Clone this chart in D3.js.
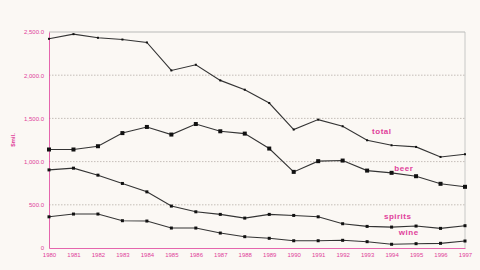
<!DOCTYPE html>
<html><head><meta charset="utf-8">
<script src="https://cdn.jsdelivr.net/npm/d3@7/dist/d3.min.js"></script>
<style>html,body{margin:0;padding:0;background:#fbf8f4;}svg{display:block;}</style>
</head><body>
<script>
const years = [1980,1981,1982,1983,1984,1985,1986,1987,1988,1989,1990,1991,1992,1993,1994,1995,1996,1997];
const total   = [2421,2475,2433,2413,2379,2055,2121,1940,1832,1678,1371,1486,1409,1247,1189,1170,1054,1085];
const beer    = [1140,1140,1178,1330,1401,1313,1435,1351,1324,1151,881,1005,1012,896,870,831,743,708];
const spirits = [904,924,843,747,650,485,419,389,346,389,377,361,281,250,242,254,227,258];
const wine    = [361,393,393,316,312,231,231,173,131,112,84,84,89,73,43,50,54,81];
const yTicks  = [0,500,1000,1500,2000,2500];
const seriesNames = ["total","beer","spirits","wine"];
const yTitle = "$mil.";

const W=480,H=270;
const m={l:49,r:15,t:32,b:22};
const pink="#e0409a";
const svg=d3.select("body").append("svg").attr("width",W).attr("height",H);
svg.append("rect").attr("width",W).attr("height",H).attr("fill","#fbf8f4");

const x=d3.scaleLinear().domain([1980,1997]).range([m.l,W-m.r]);
const y=d3.scaleLinear().domain([0,2500]).range([H-m.b,m.t]);

svg.append("g").selectAll("line").data(yTicks.filter(t=>t>0&&t<2500)).join("line")
  .attr("x1",m.l).attr("x2",W-m.r).attr("y1",d=>y(d)).attr("y2",d=>y(d))
  .attr("stroke","#b8b0aa").attr("stroke-width",0.8).attr("stroke-dasharray","1.5,1.5");
svg.append("line").attr("x1",m.l).attr("x2",W-m.r).attr("y1",y(2500)).attr("y2",y(2500)).attr("stroke","#aaa").attr("stroke-width",0.8);
svg.append("line").attr("x1",W-m.r).attr("x2",W-m.r).attr("y1",y(2500)).attr("y2",y(0)).attr("stroke","#bbb").attr("stroke-width",0.8);

const fmt=d=>d===0?"0":d3.format(",.1f")(d);
const ya=svg.append("g").attr("transform",`translate(${m.l},0)`)
  .call(d3.axisLeft(y).tickValues(yTicks).tickFormat(fmt).tickSize(0).tickPadding(5));
ya.select(".domain").attr("stroke",pink).attr("stroke-width",0.8);
ya.selectAll("text").attr("fill",pink).attr("font-family","Arial, Liberation Sans, sans-serif").attr("font-size",6);

const xa=svg.append("g").attr("transform",`translate(0,${H-m.b})`)
  .call(d3.axisBottom(x).tickValues(years).tickFormat(d3.format("d")).tickSize(0).tickPadding(5));
xa.select(".domain").attr("stroke",pink).attr("stroke-width",0.8);
xa.selectAll("text").attr("fill",pink).attr("font-family","Arial, Liberation Sans, sans-serif").attr("font-size",6);

svg.append("text").attr("transform",`translate(15,140) rotate(-90)`).attr("text-anchor","middle")
  .attr("fill",pink).attr("font-family","Arial, Liberation Sans, sans-serif").attr("font-size",6).attr("font-weight","bold").text(yTitle);

const data={total,beer,spirits,wine};
const msize={total:2,beer:4,spirits:3,wine:3};
const line=d3.line().x((d,i)=>x(years[i])).y(d=>y(d));
seriesNames.forEach(n=>{
  const g=svg.append("g");
  g.append("path").datum(data[n]).attr("d",line).attr("fill","none").attr("stroke","#333").attr("stroke-width",1.1);
  g.selectAll("rect").data(data[n]).join("rect")
    .attr("x",(d,i)=>x(years[i])-msize[n]/2).attr("y",d=>y(d)-msize[n]/2)
    .attr("width",msize[n]).attr("height",msize[n]).attr("fill","#111");
});

const labels=[{n:"total",yr:1993.6,v:1320},{n:"beer",yr:1994.5,v:890},{n:"spirits",yr:1994.25,v:335},{n:"wine",yr:1994.7,v:150}];
svg.append("g").selectAll("text").data(labels).join("text")
  .attr("x",d=>x(d.yr)).attr("y",d=>y(d.v)).attr("text-anchor","middle")
  .attr("fill",pink).attr("font-family","Arial, Liberation Sans, sans-serif").attr("font-size",8).attr("font-weight","bold")
  .attr("letter-spacing",0.5).text(d=>d.n);
</script>
</body></html>
